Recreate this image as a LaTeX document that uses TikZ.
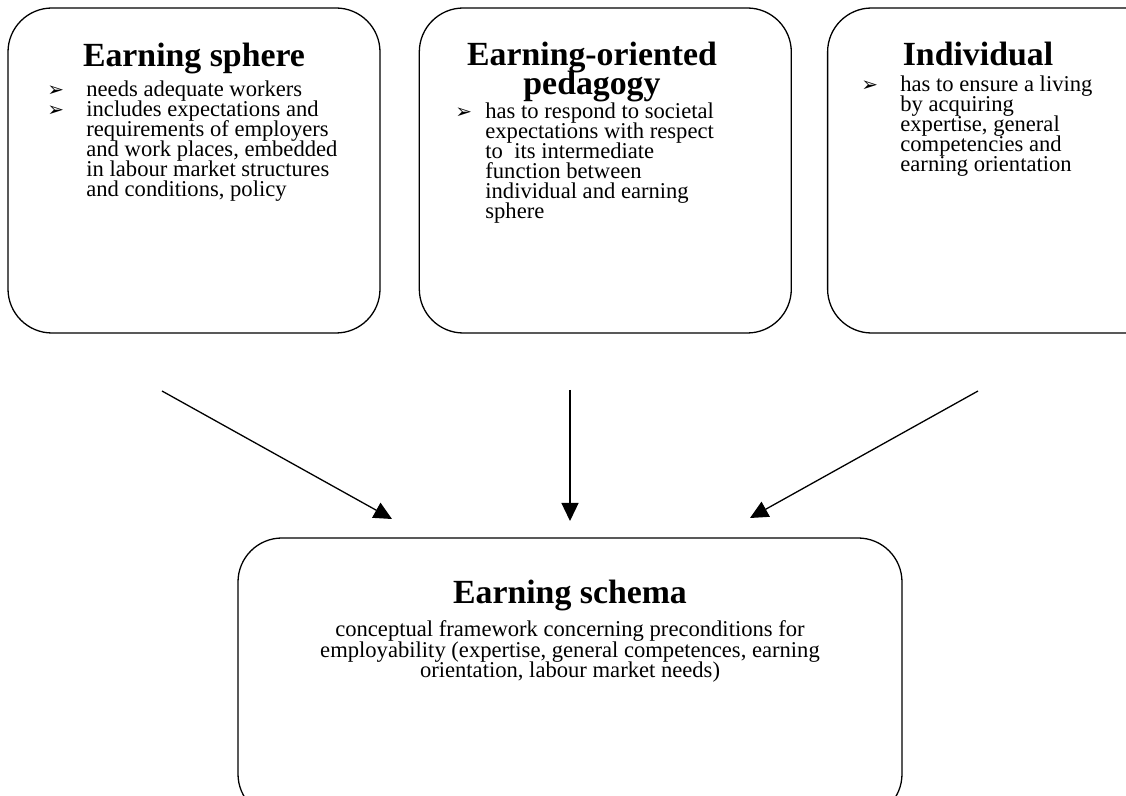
\documentclass[tikz,border=0pt]{standalone}
\usepackage{fontspec}
\setmainfont{Liberation Serif}
\newfontfamily\dingfont{DejaVu Sans}
\usetikzlibrary{positioning,arrows.meta}

\newcommand{\bul}[1][19.5pt]{\llap{\makebox[#1][l]{\dingfont\fontsize{10}{10}\selectfont ➢}}}
\newcommand{\tightlines}{\lineskiplimit=-50pt\relax}

\begin{document}
\begin{tikzpicture}[
      x=0.5pt, y=-0.5pt,
      >={Triangle[length=9pt,width=8.5pt]},
      box/.style={draw,rounded corners=22pt,minimum width=186pt,
                  minimum height=162.5pt,inner sep=0pt,line width=0.65pt},
      head/.style={font=\fontsize{16.9}{14.5}\selectfont\bfseries\tightlines,
                   align=center,anchor=base,inner sep=0pt},
      body/.style={font=\fontsize{11.3}{10}\selectfont\tightlines,
                   align=left,anchor=base west,inner sep=0pt},
      feed/.style={->, line width=0.65pt}
    ]
    \useasboundingbox (0,0) rectangle (1126,796);
    \clip (0,0) rectangle (1126,796);

    % Upper boxes
    \node[box] (sphere) at (194,170.5) {};
    \node[box, right=19pt of sphere] (pedagogy) {};
    \node[box, right=17.5pt of pedagogy] (individual) {};

    % Lower box
    \node[box, minimum width=332pt, minimum height=140pt] (schema) at (570,678) {};

    % Texts of the upper boxes (base = last line)
    \node[head] (sphere-title) at (194,67) {Earning sphere};
    \node[body] (sphere-text) at (86,197)
      {\bul needs adequate workers\\
       \bul includes expectations and\\
       requirements of employers\\
       and work places, embedded\\
       in labour market structures\\
       and conditions, policy};

    \node[head] (pedagogy-title) at (592,95) {Earning-oriented\\pedagogy};
    \node[body] (pedagogy-text) at (485,219)
      {\bul[15pt]has to respond to societal\\
       expectations with respect\\
       to\ \ its intermediate\\
       function between\\
       individual and earning\\
       sphere};

    \node[head] (individual-title) at (978,66) {Individual};
    \node[body] (individual-text) at (900,172)
      {\bul has to ensure a living\\
       by acquiring\\
       expertise, general\\
       competencies and\\
       earning orientation};

    % Text of the lower box
    \node[body, align=center, anchor=base,
          font=\fontsize{11.3}{10.3}\selectfont\tightlines]
      (schema-text) at (570,678)
      {conceptual framework concerning preconditions for\\
       employability (expertise, general competences, earning\\
       orientation, labour market needs)};
    \node[head] (schema-title) at (570,604) {Earning schema};

    % Arrows into the schema
    \coordinate (sphere-out) at (162,391);
    \coordinate (pedagogy-out) at (570,390);
    \coordinate (individual-out) at (978,391);
    \coordinate (schema-in-l) at (392,519);
    \coordinate (schema-in-m) at (570,521);
    \coordinate (schema-in-r) at (750,518);
    \draw[feed] (sphere-out) -- (schema-in-l);
    \draw[feed] (pedagogy-out) -- (schema-in-m);
    \draw[feed] (individual-out) -- (schema-in-r);

  \end{tikzpicture}
\end{document}
